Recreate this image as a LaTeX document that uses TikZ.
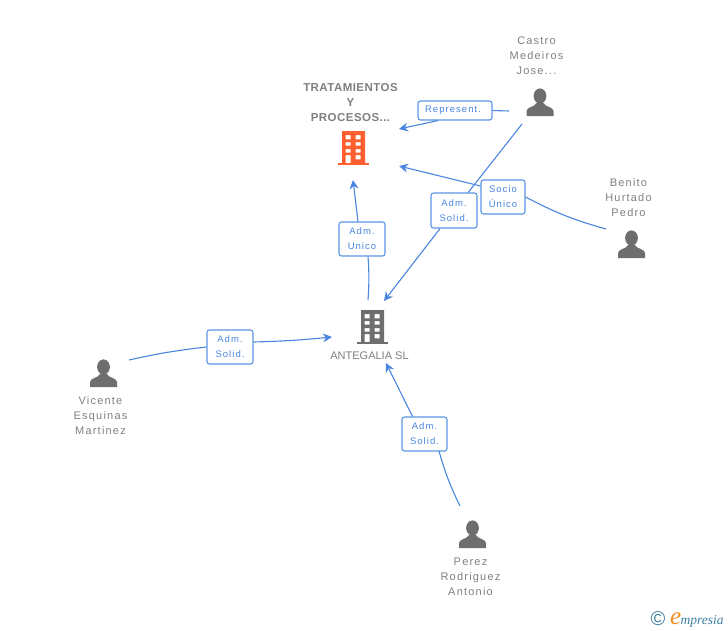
\documentclass[tikz,border=0pt]{standalone}
\usepackage{fontspec}
\setmainfont{Liberation Sans}
\newfontfamily\spacedfont[LetterSpace=11]{Liberation Sans}
\newfontfamily\boldspaced[LetterSpace=4]{Liberation Sans}
\newfontfamily\logofont{Liberation Serif}
\usetikzlibrary{arrows.meta,positioning}
\definecolor{linkblue}{HTML}{4A86E0}
\definecolor{boxblue}{HTML}{5C96E4}
\definecolor{namegray}{HTML}{7F7F7F}
\definecolor{icongray}{HTML}{6E6E6E}
\definecolor{bldgorange}{HTML}{FF5F2E}
\definecolor{logoteal}{HTML}{3F7F9F}
\definecolor{logoorange}{HTML}{F28C1E}
\tikzset{
  pics/person/.style={code={
    \fill[pic actions] (0,-7) ellipse (6.4 and 7.6);
    \fill[pic actions] (-13.5,13) -- (-13.5,8) .. controls (-13.5,4) and (-5,4) .. (-3.5,0)
      -- (3.5,0) .. controls (5,4) and (13.5,4) .. (13.5,8) -- (13.5,13) -- cycle;
  }},
  pics/bldg/.style={code={
    \fill[pic actions,even odd rule] (-11.5,-17) rectangle (11.5,15)
      (-8,-13) rectangle (-3,-8.7) (2,-13) rectangle (7,-8.7)
      (-8,-6) rectangle (-3,-2.3) (2,-6) rectangle (7,-2.3)
      (-8,1) rectangle (-3,4.7) (2,1) rectangle (7,4.7)
      (-8,7) rectangle (-3,15) (2,7) rectangle (7,11.3);
    \fill[pic actions] (-15.5,15) rectangle (15.5,17);
  }}
}
\begin{document}
\begin{tikzpicture}[
  x=1pt,y=-1pt,>=Stealth,
  link/.style={line width=1.1pt,draw=linkblue},
  tiplink/.style={-{Stealth[length=9pt,width=9pt,inset=3pt]},line width=1.1pt,draw=linkblue},
  lbl/.style={draw=boxblue,line width=1.1pt,fill=white,rounded corners=2.5pt,inner sep=0pt,
    font=\spacedfont\fontsize{9.5}{15}\selectfont,text=linkblue,align=center,
    execute at begin node=\vspace*{2pt}},
  who/.style={font=\spacedfont\fontsize{11}{15}\selectfont,text=namegray,align=center,inner sep=0pt},
  iconspot/.style={inner sep=0pt,minimum size=0pt}
]
  \useasboundingbox (0,0) rectangle (728,630);

  % Icons
  \node[iconspot] (trat)    at (353.5,148) {};
  \node[iconspot] (ante)    at (372.5,327) {};
  \node[iconspot] (castro)  at (540,103) {};
  \node[iconspot] (benito)  at (631.5,245) {};
  \node[iconspot] (vicente) at (103.5,374) {};
  \node[iconspot] (perez)   at (472.5,535) {};
  \pic[fill=bldgorange] at (trat) {bldg};
  \pic[fill=icongray] at (ante) {bldg};
  \pic[fill=icongray] at (castro) {person};
  \pic[fill=icongray] at (benito) {person};
  \pic[fill=icongray] at (vicente) {person};
  \pic[fill=icongray] at (perez) {person};

  % Names
  \node[who,font=\boldspaced\fontsize{11.5}{15}\selectfont\bfseries] (tratName) at (350.5,103) {TRATAMIENTOS\\Y\\PROCESOS...};
  \node[who,font=\fontsize{11}{15}\selectfont] (anteName) at (369.5,356) {ANTEGALIA SL};
  \node[who] (castroName)  at (536.5,56) {Castro\\Medeiros\\Jose...};
  \node[who] (benitoName)  at (628.5,198) {Benito\\Hurtado\\Pedro};
  \node[who] (vicenteName) at (100.5,416) {Vicente\\Esquinas\\Martinez};
  \node[who] (perezName)   at (470.5,577) {Perez\\Rodriguez\\Antonio};

  % Role boxes
  \node[lbl,minimum width=74pt,minimum height=19pt] (lblRep) at (455,110.5) {Represent.\hspace*{4pt}};
  \node[lbl,minimum width=46pt,minimum height=35pt] (lblCastro) at (454,210.5) {Adm.\\Solid.};
  \node[lbl,minimum width=44pt,minimum height=34pt] (lblSocio)  at (503,197) {Socio\\Único};
  \node[lbl,minimum width=46pt,minimum height=34pt] (lblUnico)  at (362,239) {Adm.\\Unico};
  \node[lbl,minimum width=46pt,minimum height=34pt] (lblVic)    at (230,347) {Adm.\\Solid.};
  \node[lbl,minimum width=45pt,minimum height=34pt] (lblPerez)  at (424.5,434) {Adm.\\Solid.};

  % Free ends of the connectors
  \coordinate (repFrom)    at (509,111);
  \coordinate (repTo)      at (399,129);
  \coordinate (castroFrom) at (522,124);
  \coordinate (castroTo)   at (384,301);
  \coordinate (benitoFrom) at (606,229);
  \coordinate (benitoTo)   at (399,166);
  \coordinate (unicoFrom)  at (368,300);
  \coordinate (unicoTo)    at (353,180);
  \coordinate (vicFrom)    at (129,360);
  \coordinate (vicTo)      at (332,337);
  \coordinate (perezFrom)  at (460,506);
  \coordinate (perezBox)   at (439,451);
  \coordinate (perezTo)    at (386,363);

  % Connectors
  \draw[link] (repFrom) -- (lblRep.east);
  \draw[tiplink] (lblRep.south) ++(-17,0) -- (repTo);
  \draw[link] (castroFrom) -- (lblCastro);
  \draw[tiplink] (lblCastro) -- (castroTo);
  \draw[link] (benitoFrom) to[bend left=6] (lblSocio.east);
  \draw[tiplink] (lblSocio.west) ++(0,-11) -- (benitoTo);
  \draw[link] (unicoFrom) to[bend right=4] (lblUnico.south -| unicoFrom);
  \draw[tiplink] (lblUnico.north) ++(-4,0) -- (unicoTo);
  \draw[link] (vicFrom) to[bend left=3] (lblVic.west);
  \draw[tiplink] (lblVic.east) ++(0,-5) to[bend right=2] (vicTo);
  \draw[link] (perezFrom) to[bend left=5] (perezBox);
  \draw[tiplink] (lblPerez.north) ++(-12,0) -- (perezTo);

  % Logo
  \node[inner sep=0pt,text=logoteal,font=\fontsize{20}{20}\selectfont] (logoC) at (658,619) {©};
  \node[inner sep=0pt,anchor=base west,text=logoorange,font=\logofont\itshape\fontsize{25}{25}\selectfont] (logoE) at (670,624) {e};
  \node[inner sep=0pt,anchor=base west,text=logoteal,font=\logofont\itshape\fontsize{13.5}{13.5}\selectfont,xshift=-1pt] (logoRest) at (logoE.base east) {mpresia};
\end{tikzpicture}
\end{document}
